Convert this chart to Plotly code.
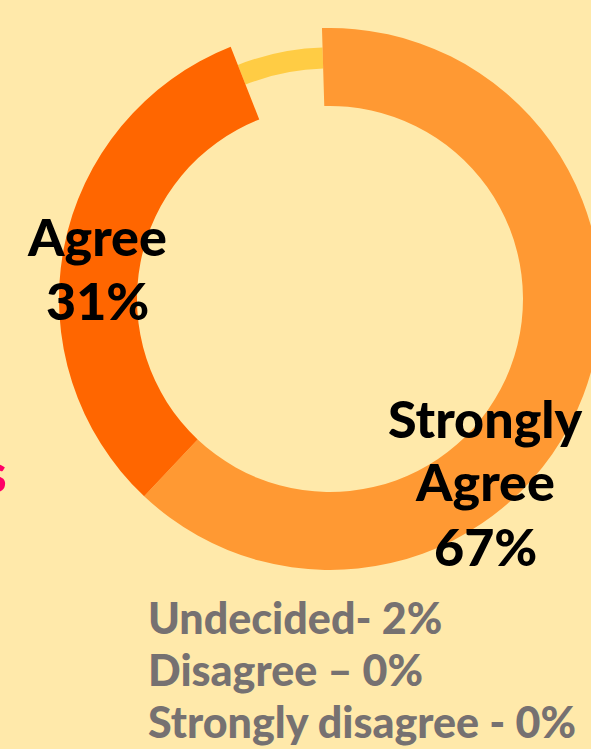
import plotly.graph_objects as go

# ---- data (slice sizes; printed labels as shown) ----
categories = ["Strongly Agree", "Agree", "Undecided"]
slice_values = [62.5, 32.0, 5.5]
sa_label_lines = ["Strongly", "Agree", "67%"]
a_label_lines = ["Agree", "31%"]
other_lines = ["Undecided- 2%", "Disagree \u2013 0%", "Strongly disagree - 0%"]

W, H = 602, 749
BG = "#FFE9AA"
C_SA = "#FF9933"
C_A = "#FF6600"
C_U = "#FFCC44"
CLEAR = "rgba(0,0,0,0)"

cx, cy = 330, 299        # donut centre (px from top-left)
R_out, R_in = 271, 193   # main ring
Ry_out, Ry_in = 251.5, 230.5  # thin yellow ring


def dom(r):
    return dict(x=[(cx - r) / W, (cx + r) / W],
                y=[(H - cy - r) / H, (H - cy + r) / H])


def px(x):
    return x / W


def py(y):
    return 1 - y / H


fig = go.Figure()

# thin yellow ring (behind)
fig.add_trace(go.Pie(
    labels=categories, values=slice_values, sort=False, direction="clockwise",
    rotation=-1.7, hole=Ry_in / Ry_out, domain=dom(Ry_out),
    marker=dict(colors=[CLEAR, CLEAR, C_U], line=dict(width=0)),
    textinfo="none", hoverinfo="skip", showlegend=False,
))
# main ring
fig.add_trace(go.Pie(
    labels=categories, values=slice_values, sort=False, direction="clockwise",
    rotation=-1.7, hole=R_in / R_out, domain=dom(R_out),
    marker=dict(colors=[C_SA, C_A, CLEAR], line=dict(width=0)),
    textinfo="none", hoverinfo="label+percent", showlegend=False,
))

FONT = "Lato Black, Lato, Arial Black, sans-serif"
ann = []


def add_line(text, x, baseline, size, color, xanchor="center"):
    ann.append(dict(
        x=px(x), y=py(baseline - 0.36 * size), text=text,
        xanchor=xanchor, yanchor="middle", align=xanchor if xanchor != "center" else "center",
        font=dict(family=FONT, size=size, color=color, weight=900),
        xref="paper", yref="paper", showarrow=False,
    ))


for t, b in zip(sa_label_lines, [437, 500, 565]):
    add_line(t, 485, b, 52, "#000000")
for t, b in zip(a_label_lines, [255, 319]):
    add_line(t, 97, b, 52, "#000000")
for t, b in zip(other_lines, [633, 685, 737]):
    add_line(t, 146, b, 43, "#767171", xanchor="left")
add_line("s", 9, 492, 56, "#FF0066", xanchor="right")

fig.update_layout(
    width=W, height=H,
    margin=dict(l=0, r=0, t=0, b=0, pad=0),
    paper_bgcolor=BG, plot_bgcolor=BG,
    annotations=ann,
    showlegend=False,
)

fig.write_html(
    "out.html",
    config={"displayModeBar": False},
    post_script="document.documentElement.style.overflow='hidden';document.body.style.overflow='hidden';document.body.style.margin='0';",
)
